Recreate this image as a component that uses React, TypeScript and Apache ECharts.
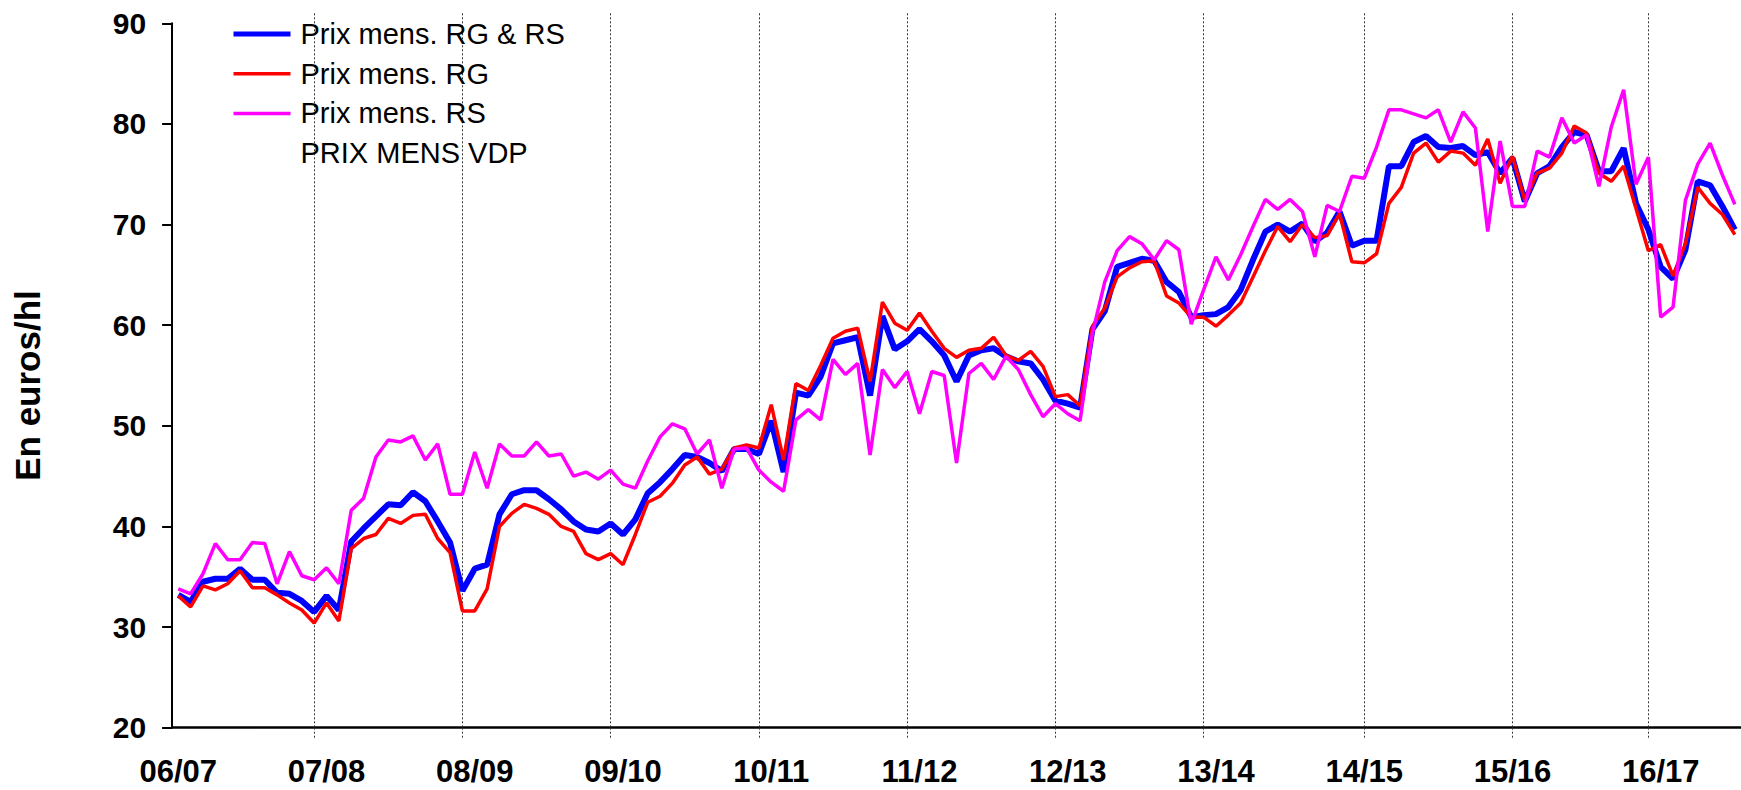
import React, { useEffect, useRef } from 'react';
import * as echarts from 'echarts';

// Campaign labels (one every 12 monthly points) and campaign break positions (point index)
const campaignLabels = ['06/07', '07/08', '08/09', '09/10', '10/11', '11/12', '12/13', '13/14', '14/15', '15/16', '16/17'];
const campaignBreaks = [11, 23, 35, 47, 59, 71, 83, 96, 108, 119];

// Prix mens. RG & RS (blue)
const prixRGRS = [
  33.2, 32.5, 34.5, 34.8, 34.8, 35.8, 34.7, 34.7, 33.4, 33.3, 32.6, 31.5,
  33.1, 31.7, 38.5, 39.8, 41.0, 42.2, 42.1, 43.4, 42.5, 40.5, 38.4, 33.6,
  35.8, 36.2, 41.2, 43.2, 43.6, 43.6, 42.7, 41.7, 40.5, 39.7, 39.5, 40.3,
  39.2, 40.7, 43.3, 44.4, 45.7, 47.1, 46.9, 46.3, 45.5, 47.7, 47.7, 47.2,
  50.5, 45.4, 53.3, 53.0, 54.9, 58.2, 58.5, 58.8, 53.0, 60.9, 57.6, 58.4,
  59.6, 58.4, 57.0, 54.4, 57.0, 57.5, 57.7, 56.9, 56.4, 56.2, 54.6, 52.5,
  52.2, 51.8, 59.6, 61.4, 65.8, 66.2, 66.6, 66.4, 64.3, 63.3, 60.8, 61.0,
  61.1, 61.8, 63.5, 66.5, 69.3, 70.0, 69.3, 70.1, 68.3, 69.2, 71.3, 67.9,
  68.4, 68.4, 75.8, 75.8, 78.2, 78.8, 77.7, 77.6, 77.8, 76.9, 77.2, 75.1,
  76.6, 72.3, 75.1, 75.8, 77.7, 79.2, 78.9, 75.3, 75.3, 77.6, 72.1, 69.5,
  65.8, 64.6, 67.5, 74.3, 73.9, 71.8, 69.5,
];

// Prix mens. RG (red)
const prixRG = [
  33.1, 32.0, 34.1, 33.7, 34.3, 35.6, 33.9, 33.9, 33.2, 32.4, 31.7, 30.4,
  32.4, 30.6, 37.8, 38.8, 39.2, 40.8, 40.3, 41.1, 41.2, 38.8, 37.4, 31.6,
  31.6, 33.8, 40.0, 41.3, 42.2, 41.8, 41.2, 40.0, 39.5, 37.3, 36.7, 37.3,
  36.2, 39.2, 42.4, 43.0, 44.3, 46.1, 46.9, 45.2, 45.7, 47.8, 48.1, 47.8,
  52.1, 46.6, 54.2, 53.5, 56.0, 58.7, 59.4, 59.7, 54.4, 62.3, 60.2, 59.5,
  61.2, 59.4, 57.7, 56.8, 57.5, 57.7, 58.8, 57.0, 56.5, 57.4, 55.9, 52.9,
  53.1, 52.0, 59.9, 61.7, 64.8, 65.7, 66.3, 66.4, 62.9, 62.2, 60.8, 60.8,
  59.9, 61.0, 62.2, 64.8, 67.4, 69.8, 68.3, 70.0, 68.7, 68.9, 71.1, 66.3,
  66.2, 67.1, 72.1, 73.7, 77.1, 78.1, 76.2, 77.3, 77.1, 75.9, 78.5, 74.1,
  76.8, 72.4, 75.1, 75.6, 77.1, 79.8, 79.1, 75.1, 74.3, 75.8, 71.6, 67.4,
  68.0, 64.9, 68.1, 73.7, 72.1, 71.0, 69.0,
];

// Prix mens. RS (magenta)
const prixRS = [
  33.8, 33.3, 35.3, 38.3, 36.7, 36.7, 38.4, 38.3, 34.3, 37.5, 35.1, 34.7,
  35.9, 34.3, 41.6, 42.8, 46.9, 48.6, 48.4, 49.0, 46.6, 48.2, 43.2, 43.2,
  47.4, 43.8, 48.2, 47.0, 47.0, 48.4, 47.0, 47.2, 45.0, 45.4, 44.7, 45.6,
  44.2, 43.8, 46.5, 48.9, 50.2, 49.7, 47.2, 48.6, 43.8, 47.7, 47.8, 45.6,
  44.4, 43.5, 50.6, 51.6, 50.6, 56.6, 55.1, 56.2, 47.1, 55.6, 53.8, 55.4,
  51.2, 55.4, 55.0, 46.3, 55.2, 56.2, 54.6, 56.9, 55.6, 53.1, 50.9, 52.2,
  51.2, 50.5, 59.2, 64.3, 67.4, 68.8, 68.1, 66.5, 68.4, 67.5, 60.1, 63.5,
  66.8, 64.5, 67.0, 69.8, 72.5, 71.5, 72.5, 71.3, 66.8, 71.9, 71.3, 74.8,
  74.6, 77.7, 81.4, 81.4, 81.0, 80.6, 81.4, 78.2, 81.2, 79.6, 69.3, 78.3,
  71.8, 71.8, 77.3, 76.7, 80.6, 78.1, 78.9, 73.8, 79.7, 83.4, 74.0, 76.7,
  60.8, 61.8, 72.4, 76.0, 78.1, 74.9, 72.0,
];

// PRIX MENS VDP (no visible line)
const prixVDP: (number | null)[] = [];

const yMin = 20;
const yMax = 90;
const yStep = 10;

const categories = prixRGRS.map((_, i) => String(i));

const FONT = 'Liberation Sans, Arial, sans-serif';

export default function App() {
  const ref = useRef<HTMLDivElement>(null);

  useEffect(() => {
    if (!ref.current) return;
    const chart = echarts.init(ref.current, undefined, { renderer: 'svg' });
    const isBreak = (idx: number) => campaignBreaks.indexOf(idx) >= 0;
    const gridTickStyle = { color: '#333', width: 1, type: [2, 2] as number[] };

    chart.setOption({
      animation: false,
      backgroundColor: '#ffffff',
      textStyle: { fontFamily: FONT },
      grid: { left: 172.1, top: 23.3, bottom: 62.3, right: -4.6, containLabel: false },
      legend: {
        orient: 'vertical',
        left: 231,
        top: 19,
        padding: 0,
        itemWidth: 57,
        itemHeight: 14,
        itemGap: 9.7,
        selectedMode: false,
        itemStyle: { opacity: 0 },
        textStyle: { fontFamily: FONT, fontSize: 29, color: '#000', lineHeight: 30, padding: [0, 0, 0, 5] },
        data: [
          { name: 'Prix mens. RG & RS', lineStyle: { width: 5, color: '#0000ff' } },
          { name: 'Prix mens. RG', lineStyle: { width: 3.5, color: '#ff0000' } },
          { name: 'Prix mens. RS', lineStyle: { width: 3.5, color: '#ff00ff' } },
          { name: 'PRIX MENS VDP', lineStyle: { width: 3, color: 'rgba(255,255,255,0)' } },
        ],
      },
      xAxis: [
        {
          type: 'category',
          data: categories,
          boundaryGap: true,
          position: 'bottom',
          axisLine: { show: true, lineStyle: { color: '#000', width: 2.5 } },
          axisTick: {
            show: true,
            alignWithLabel: true,
            interval: (idx: number) => isBreak(idx),
            length: 12,
            lineStyle: gridTickStyle,
          },
          axisLabel: {
            interval: 11,
            margin: 28,
            fontFamily: FONT,
            fontSize: 31,
            fontWeight: 'bold',
            color: '#000',
            formatter: (_v: string, idx: number) => campaignLabels[Math.round(idx / 12)] ?? '',
          },
          splitLine: { show: false },
        },
        {
          type: 'category',
          data: categories,
          boundaryGap: true,
          position: 'top',
          offset: 10,
          axisLine: { show: false },
          axisLabel: { show: false },
          axisTick: {
            show: true,
            alignWithLabel: true,
            inside: true,
            interval: (idx: number) => isBreak(idx),
            length: 714.4,
            lineStyle: gridTickStyle,
          },
          splitLine: { show: false },
        },
      ],
      yAxis: {
        type: 'value',
        min: yMin,
        max: yMax,
        interval: yStep,
        name: 'En euros/hl',
        nameLocation: 'middle',
        nameGap: 127,
        nameTextStyle: { fontFamily: FONT, fontSize: 35, fontWeight: 'bold', color: '#000', padding: [0, 20, 0, 0] },
        axisLine: { show: true, lineStyle: { color: '#000', width: 2 } },
        axisTick: { show: true, length: 10, lineStyle: { color: '#000', width: 2 } },
        axisLabel: { margin: 26, fontFamily: FONT, fontSize: 30, fontWeight: 'bold', color: '#000' },
        splitLine: { show: false },
      },
      series: [
        {
          name: 'Prix mens. RG & RS',
          type: 'line',
          data: prixRGRS,
          symbol: 'none',
          color: '#0000ff',
          lineStyle: { color: '#0000ff', width: 6 },
          z: 2,
        },
        {
          name: 'Prix mens. RG',
          type: 'line',
          data: prixRG,
          symbol: 'none',
          color: '#ff0000',
          lineStyle: { color: '#ff0000', width: 3.5 },
          z: 3,
        },
        {
          name: 'Prix mens. RS',
          type: 'line',
          data: prixRS,
          symbol: 'none',
          color: '#ff00ff',
          lineStyle: { color: '#ff00ff', width: 3.5 },
          z: 4,
        },
        {
          name: 'PRIX MENS VDP',
          type: 'line',
          data: prixVDP,
          symbol: 'none',
          color: 'rgba(255,255,255,0)',
          lineStyle: { color: 'rgba(255,255,255,0)', width: 3 },
          z: 1,
        },
      ],
    });

    return () => chart.dispose();
  }, []);

  return (
    <div
      ref={ref}
      style={{ position: 'fixed', left: 0, top: 0, width: 1741, height: 790, background: '#fff' }}
    />
  );
}
